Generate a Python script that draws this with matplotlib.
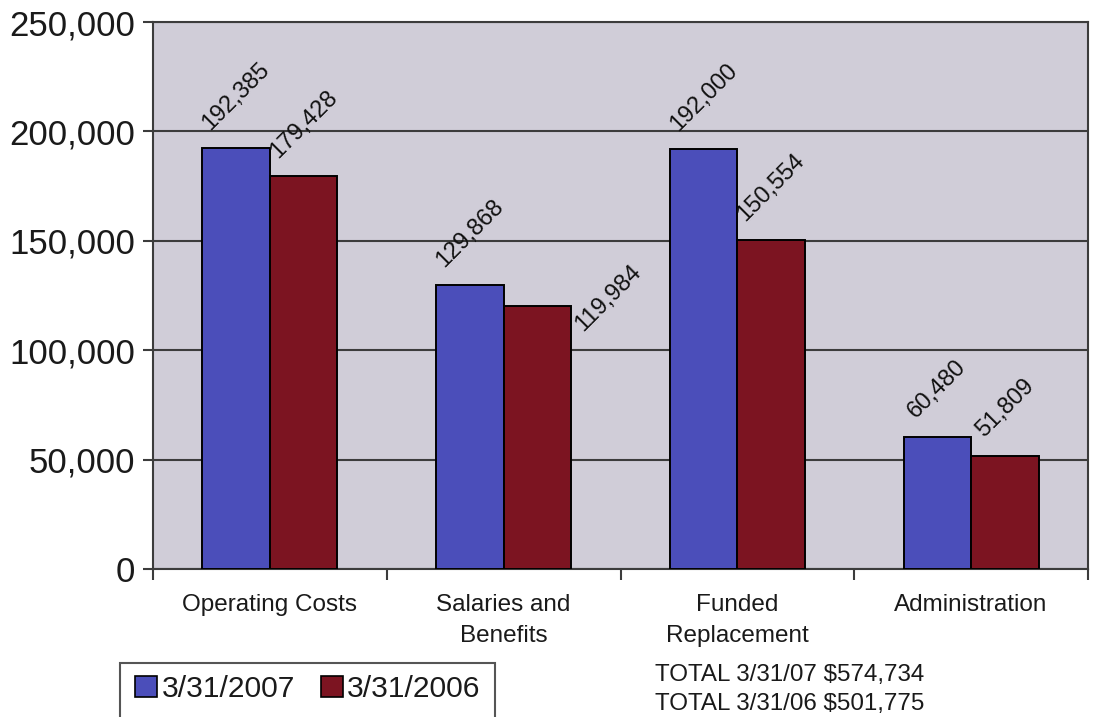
import matplotlib
matplotlib.use("Agg")
import matplotlib.pyplot as plt
from matplotlib.patches import Patch, Rectangle
import numpy as np

plt.rcParams['font.family'] = ['Liberation Sans', 'DejaVu Sans']

categories = ["Operating Costs", "Salaries and\nBenefits", "Funded\nReplacement", "Administration"]
series_names = ["3/31/2007", "3/31/2006"]
values_2007 = [192385, 129868, 192000, 60480]
values_2006 = [179428, 119984, 150554, 51809]
y_ticks = [0, 50000, 100000, 150000, 200000, 250000]
totals = ["TOTAL 3/31/07 $574,734", "TOTAL 3/31/06 $501,775"]

blue = "#4b4eba"
red = "#7c1421"
plot_bg = "#d0cdd8"
grid_col = "#3c3c3c"

W, H = 1093, 717
fig = plt.figure(figsize=(W / 100, H / 100), dpi=100)
fig.patch.set_facecolor("white")

ax = fig.add_axes([153 / W, 1 - 569 / H, (1088 - 153) / W, (569 - 22) / H])
ax.set_facecolor(plot_bg)

x = np.arange(len(categories))
bw = 0.289
bars07 = ax.bar(x - bw / 2, values_2007, bw, color=blue, edgecolor="black", linewidth=1.4, zorder=3)
bars06 = ax.bar(x + bw / 2, values_2006, bw, color=red, edgecolor="black", linewidth=1.4, zorder=3)

ax.set_xlim(-0.5, len(categories) - 0.5)
ax.set_ylim(0, 250000)

# value labels, rotated above each bar; one label sits beside its bar
label_offset = {(1, 1): (51, -21)}
for s, (bars, vals) in enumerate([(bars07, values_2007), (bars06, values_2006)]):
    for i, (b, v) in enumerate(zip(bars, vals)):
        off = label_offset.get((s, i), (0, 10))
        ax.annotate(f"{v:,}", xy=(b.get_x() + b.get_width() / 2, v),
                    xytext=off, textcoords="offset points",
                    rotation=45, ha="center", va="bottom",
                    fontsize=17, color="#111111", zorder=5)

# gridlines and y axis
ax.set_yticks(y_ticks)
ax.set_yticklabels([f"{t:,}" for t in y_ticks], fontsize=25, color="#1a1a1a")
ax.yaxis.grid(True, color=grid_col, linewidth=1.5, zorder=1)
ax.tick_params(axis="y", length=7, width=1.5, color=grid_col, pad=6)

# category labels at centres, tick marks between categories
ax.set_xticks(x)
ax.set_xticklabels(categories, fontsize=17.5, color="#1a1a1a", linespacing=1.55)
ax.tick_params(axis="x", which="major", length=0, pad=18)
ax.set_xticks(np.arange(len(categories) + 1) - 0.5, minor=True)
ax.tick_params(axis="x", which="minor", length=8, width=1.5, color=grid_col)

for side in ["left", "bottom", "right", "top"]:
    ax.spines[side].set_color(grid_col)
    ax.spines[side].set_linewidth(1.5)

# legend (its box runs past the lower edge of the figure)
handles = [Patch(facecolor=blue, edgecolor="black", linewidth=1.2),
           Patch(facecolor=red, edgecolor="black", linewidth=1.2)]
leg = fig.legend(handles, series_names, loc="upper left",
                 bbox_to_anchor=(126 / W, 1 - 666 / H), ncol=2,
                 fontsize=21.6, frameon=False,
                 handlelength=0.74, handleheight=0.7, handletextpad=0.15,
                 columnspacing=0.85, borderpad=0.3, borderaxespad=0)
for t in leg.get_texts():
    t.set_color("#1a1a1a")
fig.patches.append(Rectangle((120 / W, -20 / H), (495 - 120) / W, (H - 663 + 20) / H,
                             transform=fig.transFigure, fill=False,
                             edgecolor="#555555", linewidth=1.5))

# totals
fig.text(655 / W, 1 - 675 / H, totals[0], fontsize=17.4, color="#1a1a1a", va="center", ha="left")
fig.text(655 / W, 1 - 704 / H, totals[1], fontsize=17.4, color="#1a1a1a", va="center", ha="left")

fig.savefig("out.png", dpi=100)
